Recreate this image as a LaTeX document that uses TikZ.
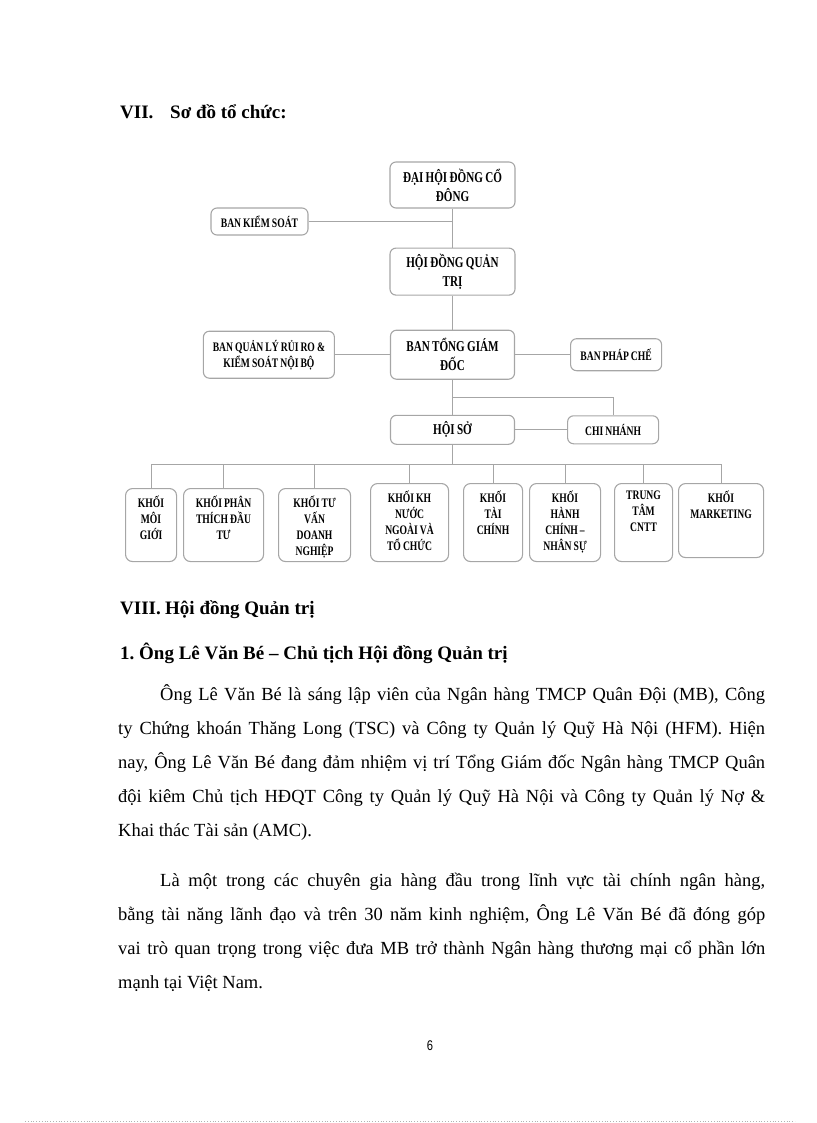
\documentclass[tikz,border=0pt]{standalone}
\usepackage{fontspec}
\setmainfont{Liberation Serif}
\newfontfamily\hopfont{Liberation Serif}[FakeStretch=0.74, WordSpace=0.85]
\newfontfamily\sofont{Liberation Sans}[FakeStretch=0.8]
\usetikzlibrary{positioning,calc}
\frenchspacing

\tikzset{
	hop/.style={draw=gray!70, line width=1.1pt, rounded corners=6pt, align=center, inner sep=2pt, font=\hopfont\bfseries\fontsize{15}{19}\selectfont},
	hopnho/.style={hop, font=\hopfont\bfseries\fontsize{13}{16}\selectfont},
	khoi/.style={draw=gray!70, line width=1.1pt, rounded corners=7pt, inner sep=0pt, anchor=north west, font=\hopfont\bfseries\fontsize{13}{16}\selectfont},
	noi/.style={draw=gray!70, line width=1.1pt},
	tieude/.style={anchor=base west, inner sep=0pt, font=\bfseries\fontsize{19}{23}\selectfont},
	doan/.style={anchor=north west, inner sep=0pt, text width=647pt, align=justify, font=\fontsize{18.5}{34}\selectfont},
}

\begin{document}
\begin{tikzpicture}[x=1pt, y=-1pt]
	\useasboundingbox (0,0) rectangle (816,1123);

	\node[tieude] (vii) at (120,119) {VII.};
	\node[tieude] (viit) at (170,119) {Sơ đồ tổ chức:};

	\node[hop, minimum width=125pt, minimum height=46pt] (dhcd) at (452.5,185) {ĐẠI HỘI ĐỒNG CỔ\\ĐÔNG};
	\node[hop, minimum width=125pt, minimum height=47pt, below=39pt of dhcd] (hdqt) {HỘI ĐỒNG QUẢN\\TRỊ};
	\node[hop, minimum width=124pt, minimum height=49pt, below=34pt of hdqt] (btgd) {BAN TỔNG GIÁM\\ĐỐC};
	\node[hopnho, minimum width=131pt, minimum height=47pt, left=55pt of btgd] (bql) {BAN QUẢN LÝ RỦI RO \&\\KIỂM SOÁT NỘI BỘ};
	\node[hopnho, minimum width=91pt, minimum height=32pt, right=55pt of btgd] (bpc) {BAN PHÁP CHẾ};
	\node[hop, minimum width=124pt, minimum height=29pt, below=35pt of btgd] (hoiso) {HỘI SỞ};
	\node[hopnho, minimum width=91pt, minimum height=28pt, right=52pt of hoiso] (cn) {CHI NHÁNH};
	\node[hopnho, minimum width=97pt, minimum height=27pt] (bks) at (259.5,221.5) {BAN KIỂM SOÁT};

	\coordinate (nks) at (bks -| dhcd);
	\coordinate (ncn) at ($(btgd.south)!0.5!(hoiso.north)$);
	\coordinate[below=20pt of hoiso] (bus);

	\draw[noi] (dhcd) -- (hdqt) -- (btgd) -- (hoiso) -- (bus);
	\draw[noi] (bks) -- (nks);
	\draw[noi] (bql) -- (btgd) -- (bpc);
	\draw[noi] (ncn) -| (cn);
	\draw[noi] (hoiso) -- (cn);

	\foreach \i/\x/\y/\w/\h/\ten in {
		1/125/488/51/73/{KHỐI\\MÔI\\GIỚI},
		2/183/488/80/73/{KHỐI PHÂN\\THÍCH ĐẦU\\TƯ},
		3/278/488/72/73/{KHỐI TƯ\\VẤN\\DOANH\\NGHIỆP},
		4/370/483/78/78/{KHỐI KH\\NƯỚC\\NGOÀI VÀ\\TỔ CHỨC},
		5/463/483/59/78/{KHỐI\\TÀI\\CHÍNH},
		6/529/483/71/78/{KHỐI\\HÀNH\\CHÍNH –\\NHÂN SỰ},
		7/614/483/58/78/{TRUNG\\TÂM\\CNTT},
		8/678/483/85/74/{KHỐI\\MARKETING}}{
		\node[khoi] (k\i) at (\x,\y) {\parbox[c][\h pt][t]{\w pt}{\centering\vspace{7pt}\ten}};
		\draw[noi] (bus) -| (k\i);
	}

	\node[tieude] (viii) at (120,614) {VIII.};
	\node[tieude] (viiit) at (165,614) {Hội đồng Quản trị};
	\node[tieude] (muc1) at (120,659) {1. Ông Lê Văn Bé – Chủ tịch Hội đồng Quản trị};

	\node[doan] (doan1) at (118,684) {\hspace*{42pt}Ông Lê Văn Bé là sáng lập viên của Ngân hàng TMCP Quân Đội (MB), Công\linebreak ty Chứng khoán Thăng Long (TSC) và Công ty Quản lý Quỹ Hà Nội (HFM). Hiện\linebreak nay, Ông Lê Văn Bé đang đảm nhiệm vị trí Tổng Giám đốc Ngân hàng TMCP Quân\linebreak đội kiêm Chủ tịch HĐQT Công ty Quản lý Quỹ Hà Nội và Công ty Quản lý Nợ \&\linebreak Khai thác Tài sản (AMC).};
	\node[doan] (doan2) at (118,873) {\hspace*{42pt}Là một trong các chuyên gia hàng đầu trong lĩnh vực tài chính ngân hàng,\linebreak bằng tài năng lãnh đạo và trên 30 năm kinh nghiệm, Ông Lê Văn Bé đã đóng góp\linebreak vai trò quan trọng trong việc đưa MB trở thành Ngân hàng thương mại cổ phần lớn\linebreak mạnh tại Việt Nam.};

	\node[font=\sofont\fontsize{14}{16}\selectfont] (trang) at (430,1046) {6};
	\draw[gray!60, line width=0.6pt, dash pattern=on 0.8pt off 2pt] (25,1121) -- (795,1121);
\end{tikzpicture}
\end{document}
